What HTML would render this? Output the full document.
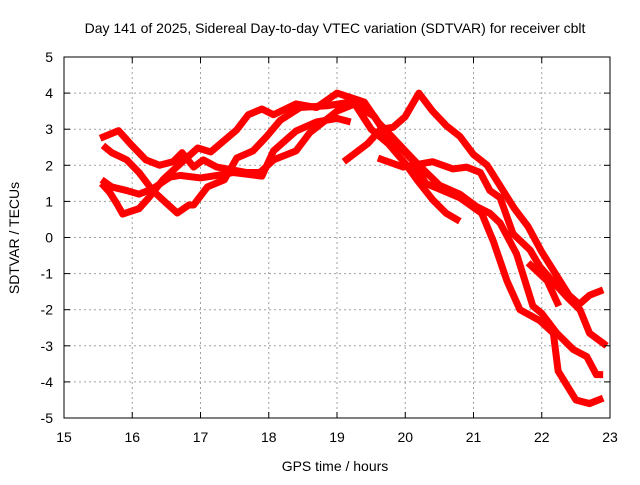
<!DOCTYPE html>
<html><head><meta charset="utf-8"><style>
body{margin:0;background:#fff}
svg text{font-family:"Liberation Sans",sans-serif;font-size:14px;fill:#000}
</style></head><body>
<svg width="640" height="480" id="chart">
<text x="335" y="33" text-anchor="middle">Day 141 of 2025, Sidereal Day-to-day VTEC variation (SDTVAR) for receiver cblt</text>
<text transform="translate(19,238) rotate(-90)" text-anchor="middle">SDTVAR / TECUs</text>
<text x="335" y="471" text-anchor="middle">GPS time / hours</text>
<g id="grid"></g>
<g id="series"></g>
<rect x="64" y="57" width="546" height="361" fill="none" stroke="#000"/>
<g id="ticks"></g>
</svg>
<script>
const xTicks=[15,16,17,18,19,20,21,22,23];
const yTicks=[5,4,3,2,1,0,-1,-2,-3,-4,-5];
const t1=[[15.55,1.6],[15.7,1.4],[15.92,1.3],[16.1,1.2],[16.3,1.35],[16.55,1.67],[16.7,1.72],[17.0,1.65],[17.24,1.72],[17.48,1.8],[17.9,1.7],[18.07,2.4],[18.4,2.95],[18.7,3.2],[19.0,3.3],[19.2,3.2]];
const t2=[[15.57,2.55],[15.7,2.35],[15.92,2.15],[16.1,1.8],[16.3,1.3],[16.5,0.95],[16.66,0.68],[16.83,0.9],[16.9,0.9],[17.1,1.4],[17.35,1.6],[17.53,2.2],[17.77,2.4],[17.97,2.8],[18.17,3.25],[18.46,3.6],[18.85,3.65],[19.2,3.75],[19.55,3.35],[19.7,2.9],[19.9,2.55],[20.1,2.15],[20.3,1.5],[20.55,1.3],[20.8,1.1],[21.12,0.67],[21.29,-0.1],[21.49,-1.2],[21.68,-2.0],[21.97,-2.3],[22.17,-2.65],[22.24,-3.7],[22.5,-4.5],[22.7,-4.6],[22.9,-4.45]];
const t3=[[15.53,2.75],[15.8,2.96],[15.97,2.6],[16.2,2.15],[16.4,2.0],[16.6,2.1],[16.73,2.35],[16.9,1.95],[17.04,2.15],[17.24,1.95],[17.68,1.8],[17.87,1.8],[18.07,2.15],[18.4,2.4],[18.6,2.9],[18.8,3.2],[19.0,3.5],[19.26,3.7],[19.5,3.0],[19.75,2.6],[20.0,2.05],[20.17,1.6],[20.4,1.05],[20.6,0.67],[20.8,0.45]];
const t4=[[15.55,1.5],[15.67,1.25],[15.77,0.95],[15.86,0.65],[16.1,0.8],[16.25,1.12],[16.45,1.6],[16.65,1.95],[16.96,2.48],[17.15,2.37],[17.53,2.98],[17.7,3.4],[17.9,3.56],[18.07,3.4],[18.4,3.7],[18.7,3.6],[19.0,4.0],[19.4,3.75],[19.6,3.2],[19.8,2.8],[20.0,2.4],[20.2,2.0],[20.5,1.45],[20.8,1.2],[21.05,0.85],[21.24,0.67],[21.39,0.4],[21.63,-0.45],[21.87,-1.9],[22.0,-2.1],[22.22,-2.65],[22.46,-3.1],[22.66,-3.3],[22.8,-3.8],[22.9,-3.8]];
const t5=[[19.6,2.2],[19.97,1.95],[20.4,2.1],[20.7,1.9],[20.9,1.95],[21.1,1.8],[21.24,1.3],[21.39,1.1],[21.58,0.1],[21.83,-0.35],[21.97,-0.8],[22.2,-1.3],[22.37,-1.65],[22.56,-2.0],[22.7,-2.65],[22.95,-3.0]];
const t6=[[19.1,2.1],[19.45,2.6],[19.64,3.0],[19.82,3.05],[20.0,3.35],[20.2,4.0],[20.4,3.5],[20.6,3.1],[20.8,2.8],[21.0,2.3],[21.2,2.0],[21.4,1.4],[21.6,0.8],[21.8,0.3],[22.0,-0.4],[22.2,-1.0],[22.4,-1.6],[22.55,-1.85],[22.7,-1.6],[22.9,-1.45]];
const t7=[[21.8,-0.7],[22.08,-1.2],[22.25,-1.9]];
const allSeries=[t1,t2,t3,t4,t5,t6,t7];
const NS="http://www.w3.org/2000/svg";
function xs(h){return 64+(h-15)*546/8;}
function ys(v){return 237.5-v*36.1;}
const grid=document.getElementById('grid'),ticks=document.getElementById('ticks'),chart=document.getElementById('chart'),ser=document.getElementById('series');
function mk(tag,attrs,parent){const e=document.createElementNS(NS,tag);for(const k in attrs)e.setAttribute(k,attrs[k]);parent.appendChild(e);return e;}
xTicks.forEach(t=>{const x=xs(t);
 if(t>15&&t<23){const g=mk('line',{x1:x,x2:x,y1:57,y2:418,stroke:'#a0a0a0','stroke-dasharray':'2,3'},grid);
 
 }
 const a=mk('line',{x1:x,x2:x,y1:418,y2:412,stroke:'#000'},ticks);
 
 
 mk('line',{x1:x,x2:x,y1:57,y2:63,stroke:'#000'},ticks);
 const l=mk('text',{x:x,y:442,'text-anchor':'middle'},chart);l.textContent=t;
 
 
});
yTicks.forEach(t=>{const y=ys(t);
 if(t>-5&&t<5){const g=mk('line',{x1:64,x2:610,y1:y,y2:y,stroke:'#a0a0a0','stroke-dasharray':'2,3'},grid);
 
 }
 const a=mk('line',{x1:64,x2:70,y1:y,y2:y,stroke:'#000'},ticks);
 
 
 mk('line',{x1:604,x2:610,y1:y,y2:y,stroke:'#000'},ticks);
 const l=mk('text',{x:53,y:y+5,'text-anchor':'end'},chart);l.textContent=t;
 
 
});
allSeries.forEach((s,i)=>{
 const p=mk('polyline',{points:s.map(d=>xs(d[0])+','+ys(d[1])).join(' '),fill:'none',stroke:'#ff0000','stroke-width':7,'stroke-linejoin':'round','stroke-linecap':'butt'},ser);
 
 
});
</script>
</body></html>
